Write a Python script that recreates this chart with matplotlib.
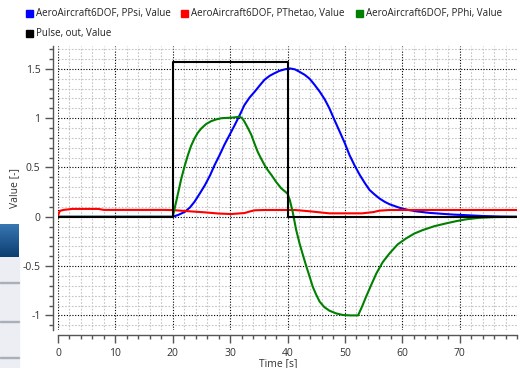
import numpy as np
import matplotlib
matplotlib.use("Agg")
import matplotlib.pyplot as plt
from matplotlib.patches import Rectangle
from matplotlib.ticker import MultipleLocator, FuncFormatter
from matplotlib.colors import LinearSegmentedColormap

# ---- data ----
t_psi = [0, 20, 21, 22.1, 23, 23.8, 24.7, 25.6, 26.5, 27.3,
         28.2, 29.0, 29.9, 30.8, 31.7, 32.5, 33.4, 34.3, 35.2, 36.0,
         36.9, 37.7, 38.6, 39.5, 40.4, 41.3, 42.1, 43.0, 43.85, 44.7,
         45.6, 46.5, 47.3, 48.2, 49.1, 50.0, 50.8, 51.7, 52.6, 53.5,
         54.3, 55.2, 56.0, 57.0, 57.8, 59.5, 61, 62.5, 64.7, 67,
         69, 71.7, 74, 77, 80]
psi = [0, 0, 0.02, 0.05, 0.095, 0.153, 0.235, 0.32, 0.42, 0.525,
       0.63, 0.73, 0.83, 0.93, 1.035, 1.134, 1.21, 1.27, 1.335, 1.39,
       1.43, 1.455, 1.48, 1.495, 1.505, 1.495, 1.47, 1.44, 1.40, 1.34,
       1.27, 1.19, 1.10, 0.98, 0.863, 0.745, 0.627, 0.52, 0.424, 0.34,
       0.272, 0.225, 0.187, 0.15, 0.127, 0.092, 0.07, 0.055, 0.04, 0.03,
       0.022, 0.015, 0.008, 0.003, 0.0]

t_theta = [0, 0.3, 1, 2.5, 7, 8, 18.6, 20, 22.1, 25.6,
           28, 30.2, 32.5, 33.5, 34.3, 36, 41.3, 44, 47.3, 53,
           55, 56, 57.8, 60, 80]
theta = [0.01, 0.06, 0.07, 0.08, 0.08, 0.07, 0.07, 0.068, 0.059, 0.045,
         0.033, 0.028, 0.038, 0.055, 0.066, 0.069, 0.069, 0.055, 0.035, 0.035,
         0.048, 0.062, 0.069, 0.069, 0.069]

t_phi = [0, 20, 20.7, 21.5, 22.1, 22.65, 23.2, 23.8, 24.4, 25.0,
         25.8, 26.7, 27.6, 28.5, 29.4, 30.2, 31.0, 31.65, 32.1, 32.5,
         33.1, 33.7, 34.2, 34.8, 35.4, 36.0, 36.6, 37.2, 38.0, 38.9,
         39.5, 40.0, 40.4, 40.9, 41.5, 42.1, 42.7, 43.3, 43.9, 44.4,
         45.0, 45.6, 46.4, 47.3, 48.5, 49.65, 51, 52.3, 53.0, 53.7,
         54.6, 55.5, 56.6, 57.8, 59.2, 60.7, 62.1, 63.6, 65.6, 67.7,
         69.5, 71.2, 73.5, 76, 80]
phi = [0, 0, 0.18, 0.39, 0.52, 0.627, 0.72, 0.796, 0.855, 0.897,
       0.94, 0.97, 0.988, 1.0, 1.003, 1.005, 1.01, 1.015, 1.0, 0.965,
       0.9, 0.83, 0.75, 0.66, 0.59, 0.525, 0.47, 0.424, 0.355, 0.289,
       0.26, 0.235, 0.17, 0.05, -0.13, -0.27, -0.39, -0.506, -0.615, -0.709,
       -0.79, -0.86, -0.915, -0.952, -0.98, -0.996, -1.0, -1.0, -0.91, -0.81,
       -0.69, -0.573, -0.46, -0.37, -0.28, -0.218, -0.17, -0.134, -0.095, -0.066,
       -0.043, -0.025, -0.01, -0.003, 0.0]

t_pulse = [0, 20, 20, 40, 40, 80]
pulse = [0, 0, 1.5708, 1.5708, 0, 0]

labels = ["AeroAircraft6DOF, PPsi, Value", "AeroAircraft6DOF, PThetao, Value",
          "AeroAircraft6DOF, PPhi, Value", "Pulse, out, Value"]
colors = ["#0000FF", "#FF0000", "#008000", "#000000"]

W, H = 520, 368
fig = plt.figure(figsize=(W / 100, H / 100), dpi=100)
plt.rcParams['font.family'] = ['Open Sans', 'DejaVu Sans']

def px(x0, y0, x1, y1):
    return [x0 / W, 1 - y1 / H, (x1 - x0) / W, (y1 - y0) / H]

ax = fig.add_axes(px(58, 46, 517, 330))
series = [(t_psi, psi), (t_theta, theta), (t_phi, phi), (t_pulse, pulse)]
for (t, v), c in zip(series, colors):
    ax.plot(t, v, color=c, lw=1.5, solid_joinstyle='round')

ax.set_xlim(0, 80)
ax.set_ylim(-1.148, 1.732)
ax.xaxis.set_major_locator(MultipleLocator(10))
ax.xaxis.set_minor_locator(MultipleLocator(2))
ax.yaxis.set_major_locator(MultipleLocator(0.5))
ax.yaxis.set_minor_locator(MultipleLocator(0.1))
ax.set_xticks([0, 10, 20, 30, 40, 50, 60, 70])
ax.yaxis.set_major_formatter(FuncFormatter(lambda v, p: ('%g' % v)))

ax.grid(which='major', color='#000000', linestyle=(0, (1, 1.5)), lw=0.8)
ax.grid(which='minor', color='#c4c4c4', linestyle=(0, (1.5, 1.5)), lw=0.8)
ax.set_axisbelow(True)

for s in ['top', 'right']:
    ax.spines[s].set_visible(False)
ax.spines['left'].set_position(('outward', 3.6))
ax.spines['bottom'].set_position(('outward', 3.6))
for s in ['left', 'bottom']:
    ax.spines[s].set_color('#555555')
    ax.spines[s].set_linewidth(1.0)
ax.tick_params(which='major', length=6, width=1, color='#555555', labelsize=7.5,
               labelcolor='#333333', pad=3)
ax.tick_params(which='minor', length=3, width=1, color='#555555')

ax.set_ylabel("Value [-]", fontsize=7.5, color='#333333')
ax.yaxis.set_label_coords(-0.083, 0.5)
ax.set_xlabel("Time [s]", fontsize=7.5, color='#333333')
ax.xaxis.set_label_coords(0.479, -0.098)

# legend (manual)
leg_pos = [(25.5, 13.5), (181, 13.5), (356, 13.5), (25.5, 33.5)]
for (x, y), lab, c in zip(leg_pos, labels, colors):
    fig.add_artist(Rectangle((x / W, 1 - (y + 3.5) / H), 7 / W, 7 / H, color=c,
                             transform=fig.transFigure))
    fig.text((x + 10) / W, 1 - y / H, lab, fontsize=7.0, va='center', ha='left',
             color='#222222')

# left-edge screen fragment
gax = fig.add_axes(px(0, 224, 19, 257))
grad = np.linspace(0, 1, 50)[:, None]
cm = LinearSegmentedColormap.from_list('g', ['#3a78b5', '#0b3e70'])
gax.imshow(grad, aspect='auto', cmap=cm, extent=[0, 1, 0, 1])
gax.axis('off')
fig.add_artist(Rectangle((0, 0), 19 / W, 1 - 257 / H, color='#eceef3',
                         transform=fig.transFigure, zorder=-1))
for yy in [283, 322, 358]:
    fig.add_artist(Rectangle((0, 1 - yy / H), 19 / W, 1.2 / H, color='#aab0ba',
                             transform=fig.transFigure))

fig.savefig("out.png", dpi=100)
